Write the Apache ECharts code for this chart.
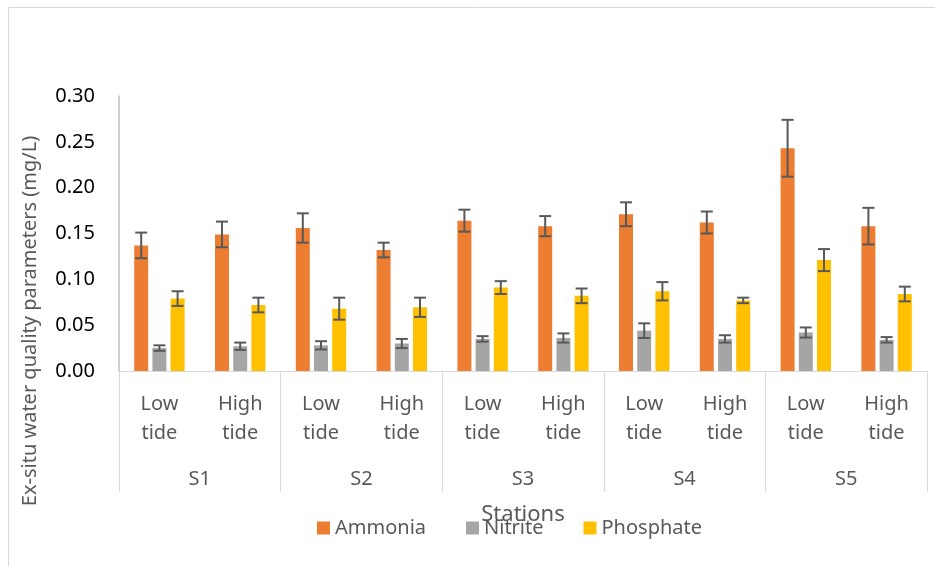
<!DOCTYPE html>
<html>
<head>
<meta charset="utf-8">
<script src="https://cdn.jsdelivr.net/npm/echarts@6/dist/echarts.min.js"></script>
<style>
  html, body { margin: 0; padding: 0; background: #fff; }
  #chart { width: 935px; height: 566px; }
</style>
</head>
<body>
<div id="chart"></div>
<script>
// tick labels / categories
const tides = ['Low\ntide', 'High\ntide', 'Low\ntide', 'High\ntide', 'Low\ntide', 'High\ntide', 'Low\ntide', 'High\ntide', 'Low\ntide', 'High\ntide'];
const stations = ['S1', 'S2', 'S3', 'S4', 'S5'];
const yTicks = [0, 0.05, 0.1, 0.15, 0.2, 0.25, 0.3];

// means and error values (mg/L)
const ammonia = [0.137, 0.149, 0.156, 0.132, 0.164, 0.158, 0.171, 0.162, 0.243, 0.158];
const ammoniaErr = [0.014, 0.014, 0.016, 0.008, 0.012, 0.011, 0.013, 0.012, 0.031, 0.020];
const nitrite = [0.025, 0.027, 0.028, 0.030, 0.035, 0.036, 0.044, 0.035, 0.042, 0.034];
const nitriteErr = [0.003, 0.004, 0.0045, 0.005, 0.003, 0.005, 0.008, 0.004, 0.0055, 0.003];
const phosphate = [0.079, 0.072, 0.068, 0.0695, 0.091, 0.082, 0.087, 0.077, 0.121, 0.084];
const phosphateErr = [0.008, 0.008, 0.012, 0.0105, 0.007, 0.008, 0.010, 0.003, 0.012, 0.008];

const FONT = 'Noto Sans';
const BAR_W = 14;
const BAR_STEP = 18.2; // bar width + gap

let chart = echarts.init(document.getElementById('chart'));

// error bar drawn over the bar, shifted by the bar's slot in the group
function errBar(slot) {
  return function (params, api) {
    let i = api.value(0);
    let v = api.value(1);
    let e = api.value(2);
    let top = api.coord([i, v + e]);
    let bot = api.coord([i, v - e]);
    let x = top[0] + slot * BAR_STEP;
    let st = { stroke: '#595959', lineWidth: 2 };
    return {
      type: 'group',
      children: [
        { type: 'line', shape: { x1: x, y1: top[1], x2: x, y2: bot[1] }, style: st },
        { type: 'line', shape: { x1: x - 6, y1: top[1], x2: x + 6, y2: top[1] }, style: st },
        { type: 'line', shape: { x1: x - 6, y1: bot[1], x2: x + 6, y2: bot[1] }, style: st }
      ]
    };
  };
}

function errData(vals, errs) {
  return vals.map((v, i) => [i, v, errs[i]]);
}

let option = {
  animation: false,
  textStyle: { fontFamily: FONT },
  grid: { left: 119, right: 8, top: 96, bottom: 195 },
  legend: {
    data: ['Ammonia', 'Nitrite', 'Phosphate'],
    left: 312,
    top: 513,
    itemWidth: 13,
    itemHeight: 13,
    itemGap: 40,
    icon: 'rect',
    textStyle: { fontFamily: FONT, fontSize: 20, color: '#595959' }
  },
  xAxis: [
    {
      type: 'category',
      data: tides,
      axisLine: { lineStyle: { color: '#d9d9d9', width: 1 } },
      axisTick: { show: false },
      axisLabel: {
        interval: 0,
        margin: 19,
        fontSize: 20,
        lineHeight: 29,
        color: '#595959',
        fontFamily: FONT
      }
    },
    {
      type: 'category',
      data: stations,
      position: 'bottom',
      axisLine: { show: false },
      axisTick: { show: true, length: 121, lineStyle: { color: '#d9d9d9', width: 1 } },
      axisLabel: {
        interval: 0,
        margin: 98,
        fontSize: 20,
        color: '#595959',
        fontFamily: FONT
      }
    }
  ],
  yAxis: {
    type: 'value',
    min: yTicks[0],
    max: yTicks[yTicks.length - 1],
    interval: 0.05,
    splitLine: { show: false },
    axisLine: { show: true, lineStyle: { color: '#bfbfbf', width: 1.5 } },
    axisTick: { show: false },
    axisLabel: {
      margin: 24,
      fontSize: 20,
      color: '#000',
      fontFamily: FONT,
      formatter: v => v.toFixed(2)
    }
  },
  graphic: [
    {
      type: 'rect',
      shape: { x: 8.5, y: 7.5, width: 940, height: 580 },
      style: { fill: 'none', stroke: '#d9d9d9', lineWidth: 1 },
      silent: true
    },
    {
      type: 'text',
      x: 30,
      y: 321,
      rotation: Math.PI / 2,
      style: {
        text: 'Ex-situ water quality parameters (mg/L)',
        fontFamily: FONT,
        fontSize: 20,
        fill: '#595959',
        align: 'center',
        verticalAlign: 'middle'
      }
    },
    {
      type: 'text',
      x: 523,
      y: 515,
      style: {
        text: 'Stations',
        fontFamily: FONT,
        fontSize: 22,
        fill: '#595959',
        align: 'center',
        verticalAlign: 'middle'
      }
    }
  ],
  series: [
    { name: 'Ammonia', type: 'bar', data: ammonia, barWidth: BAR_W, barGap: '30%', itemStyle: { color: '#ED7D31' } },
    { name: 'Nitrite', type: 'bar', data: nitrite, barWidth: BAR_W, barGap: '30%', itemStyle: { color: '#A5A5A5' } },
    { name: 'Phosphate', type: 'bar', data: phosphate, barWidth: BAR_W, barGap: '30%', itemStyle: { color: '#FFC000' } },
    { name: 'errA', type: 'custom', renderItem: errBar(-1), data: errData(ammonia, ammoniaErr), z: 5 },
    { name: 'errN', type: 'custom', renderItem: errBar(0), data: errData(nitrite, nitriteErr), z: 5 },
    { name: 'errP', type: 'custom', renderItem: errBar(1), data: errData(phosphate, phosphateErr), z: 5 }
  ]
};

chart.setOption(option);
</script>
</body>
</html>
